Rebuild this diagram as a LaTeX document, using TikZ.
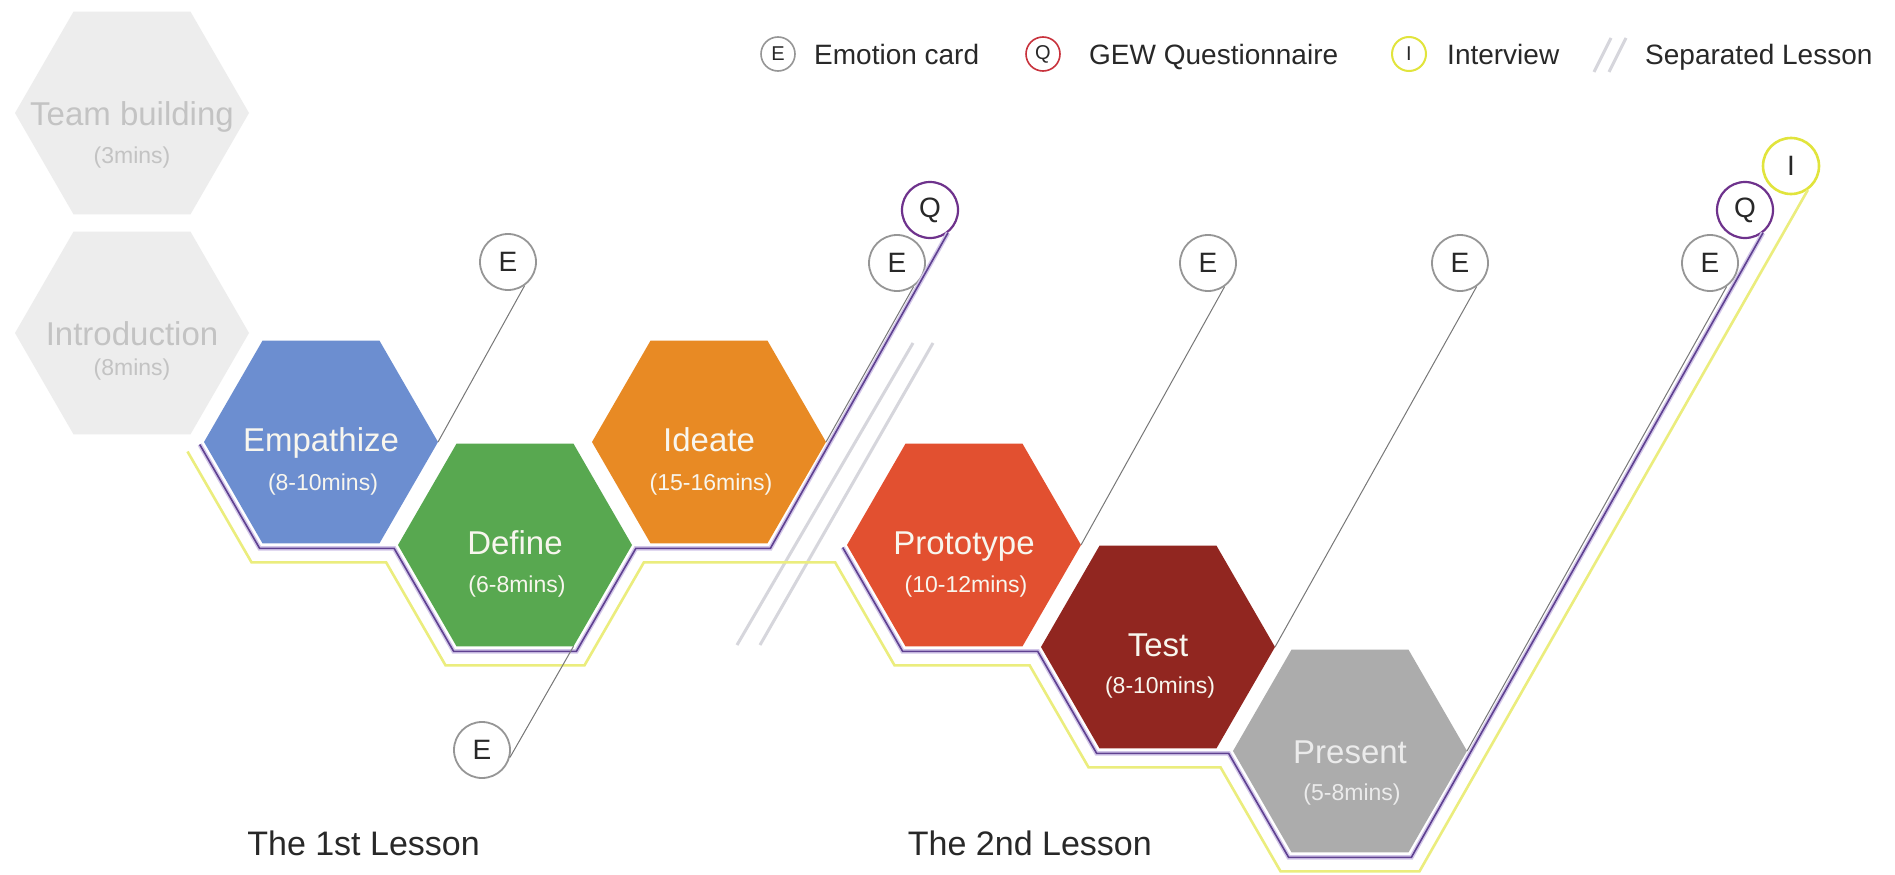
\documentclass[tikz,border=0pt]{standalone}
\usepackage{fontspec}
\setmainfont{Liberation Sans}
\usetikzlibrary{shapes.geometric,calc}
\definecolor{grayhex}{RGB}{237,237,237}
\definecolor{graytxt}{RGB}{195,195,195}
\definecolor{empc}{RGB}{108,142,208}
\definecolor{defc}{RGB}{88,168,80}
\definecolor{idec}{RGB}{232,138,36}
\definecolor{proc}{RGB}{226,80,48}
\definecolor{tesc}{RGB}{145,38,32}
\definecolor{prec}{RGB}{172,172,172}
\definecolor{hextxt}{RGB}{248,246,238}
\definecolor{ecol}{RGB}{150,150,150}
\definecolor{elinec}{RGB}{120,120,120}
\definecolor{qpur}{RGB}{110,50,140}
\definecolor{qred}{RGB}{200,50,60}
\definecolor{iyel}{RGB}{225,228,60}
\definecolor{ylinc}{RGB}{235,237,125}
\definecolor{plinc}{RGB}{95,65,145}
\definecolor{plav}{RGB}{210,198,232}
\definecolor{sepc}{RGB}{214,214,220}
\definecolor{txtdark}{RGB}{40,40,40}
\begin{document}
\begin{tikzpicture}[x=1pt,y=-1pt,
  hexa/.style={regular polygon, regular polygon sides=6, minimum size=234pt, inner sep=0pt, outer sep=0pt, draw=none},
  ttl/.style={font=\fontsize{33}{38}\selectfont, anchor=base, inner sep=0pt},
  sub/.style={font=\fontsize{23}{27}\selectfont, anchor=base, inner sep=0pt},
  ecirc/.style={circle, draw=ecol, fill=white, line width=1.8pt, minimum size=56pt, inner sep=0pt, font=\fontsize{28}{30}\selectfont, text=txtdark},
  qcirc/.style={ecirc, draw=qpur, line width=2.2pt},
  icirc/.style={ecirc, draw=iyel, line width=2.6pt},
  lcirc/.style={circle, fill=white, line width=1.6pt, minimum size=34pt, inner sep=0pt, font=\fontsize{20}{22}\selectfont, text=txtdark},
  legtxt/.style={font=\fontsize{28}{32}\selectfont, text=txtdark, anchor=base west, inner sep=0pt},
  lessontxt/.style={font=\fontsize{34}{38}\selectfont, text=txtdark, anchor=base east, inner sep=0pt},
  eln/.style={draw=elinec, line width=1pt},
  pln/.style={draw=plinc, line width=1.6pt, preaction={draw=plav, line width=4.5pt}},
  yln/.style={draw=ylinc, line width=2.6pt},
  sepln/.style={draw=sepc, line width=3pt}
]
\useasboundingbox (0,0) rectangle (1895,875);
\fill[white] (0,0) rectangle (1895,875);

% hexagons
\node[hexa, fill=grayhex] (team) at (132,113) {};
\node[hexa, fill=grayhex] (intro) at (132,333) {};
\node[hexa, fill=empc] (emp) at (321,442) {};
\node[hexa, fill=defc] (def) at (515,545) {};
\node[hexa, fill=idec] (ide) at (709,442) {};
\node[hexa, fill=proc] (pro) at (964,545) {};
\node[hexa, fill=tesc] (tes) at (1158,647) {};
\node[hexa, fill=prec] (pre) at (1350,751) {};

% hexagon texts
\node[ttl, text=graytxt] (teamt) at ($(team.center)+(0,12)$) {Team building};
\node[sub, text=graytxt] (teams) at ($(team.center)+(0,50)$) {(3mins)};
\node[ttl, text=graytxt] (introt) at ($(intro.center)+(0,12)$) {Introduction};
\node[sub, text=graytxt] (intros) at ($(intro.center)+(0,42)$) {(8mins)};
\node[ttl, text=hextxt] (empt) at ($(emp.center)+(0,9)$) {Empathize};
\node[sub, text=hextxt] (emps) at ($(emp.center)+(2,48)$) {(8-10mins)};
\node[ttl, text=hextxt] (deft) at ($(def.center)+(0,9)$) {Define};
\node[sub, text=hextxt] (defs) at ($(def.center)+(2,47)$) {(6-8mins)};
\node[ttl, text=hextxt] (idet) at ($(ide.center)+(0,9)$) {Ideate};
\node[sub, text=hextxt] (ides) at ($(ide.center)+(2,48)$) {(15-16mins)};
\node[ttl, text=hextxt] (prot) at ($(pro.center)+(0,9)$) {Prototype};
\node[sub, text=hextxt] (pros) at ($(pro.center)+(2,47)$) {(10-12mins)};
\node[ttl, text=hextxt] (test) at ($(tes.center)+(0,9)$) {Test};
\node[sub, text=hextxt] (tess) at ($(tes.center)+(2,46)$) {(8-10mins)};
\node[ttl, text=white!92!black] (pret) at ($(pre.center)+(0,12)$) {Present};
\node[sub, text=white!92!black] (pres) at ($(pre.center)+(2,49)$) {(5-8mins)};

% separator between lessons
\coordinate (s1a) at (913,343); \coordinate (s1b) at (737,645);
\coordinate (s2a) at (933,343); \coordinate (s2b) at (760,645);
\draw[sepln] (s1a) -- (s1b);
\draw[sepln] (s2a) -- (s2b);

% circles
\node[ecirc] (e1) at (508,262) {E};
\node[ecirc] (e2) at (482,750) {E};
\node[ecirc] (e3) at (897,263) {E};
\node[qcirc] (q1) at (930,210) {Q};
\node[ecirc] (e4) at (1208,263) {E};
\node[ecirc] (e5) at (1460,263) {E};
\node[ecirc] (e6) at (1710,263) {E};
\node[qcirc] (q2) at (1745,210) {Q};
\node[icirc] (i1) at (1791,166) {I};

% yellow interview line
\coordinate (y0) at (187.5,451.5);
\coordinate (y1) at (251.5,562.3);
\coordinate (y2) at (386.1,562.3);
\coordinate (y3) at (445.5,665.3);
\coordinate (y4) at (584.5,665.3);
\coordinate (y5) at (643.9,562.3);
\coordinate (y6) at (835.1,562.3);
\coordinate (y7) at (894.5,665.3);
\coordinate (y8) at (1029.6,665.3);
\coordinate (y9) at (1088.5,767.3);
\coordinate (y10) at (1220.5,767.3);
\coordinate (y11) at (1280.5,871.3);
\coordinate (y12) at (1419.5,871.3);
\draw[yln] (y0) -- (y1) -- (y2) -- (y3) -- (y4) -- (y5) -- (y6) -- (y7) -- (y8) -- (y9) -- (y10) -- (y11) -- (y12) -- (i1.-55);

% purple questionnaire lines
\coordinate (p0) at (199.7,444.5);
\coordinate (p1) at (259.6,548.3);
\coordinate (p2) at (394.1,548.3);
\coordinate (p3) at (453.6,651.3);
\coordinate (p4) at (576.4,651.3);
\coordinate (p5) at (635.9,548.3);
\coordinate (p6) at (770.4,548.3);
\draw[pln] (p0) -- (p1) -- (p2) -- (p3) -- (p4) -- (p5) -- (p6) -- (q1.-52);
\coordinate (p7) at (842.7,547.5);
\coordinate (p8) at (902.6,651.3);
\coordinate (p9) at (1037.7,651.3);
\coordinate (p10) at (1096.6,753.3);
\coordinate (p11) at (1228.6,753.3);
\coordinate (p12) at (1288.6,857.3);
\coordinate (p13) at (1411.4,857.3);
\draw[pln] (p7) -- (p8) -- (p9) -- (p10) -- (p11) -- (p12) -- (p13) -- (q2.-52);

% emotion card lines
\draw[eln] (emp.east) -- (e1.-55);
\draw[eln] (def.corner 5) -- (e2.-15);
\draw[eln] (ide.east) -- (e3.-55);
\draw[eln] (pro.east) -- (e4.-55);
\draw[eln] (tes.east) -- (e5.-55);
\draw[eln] (pre.east) -- (e6.-55);

% lesson labels
\node[lessontxt] (l1) at (480,855) {The 1st Lesson};
\node[lessontxt] (l2) at (1152,855) {The 2nd Lesson};

% legend
\node[lcirc, draw=ecol] (le) at (778,54) {E};
\node[legtxt] (let) at (814,64) {Emotion card};
\node[lcirc, draw=qred] (lq) at (1043,54) {Q};
\node[legtxt] (lqt) at (1089,64) {GEW Questionnaire};
\node[lcirc, draw=iyel, line width=2pt] (li) at (1409,54) {I};
\node[legtxt] (lit) at (1447,64) {Interview};
\coordinate (ls1a) at (1611,38); \coordinate (ls1b) at (1594,72);
\coordinate (ls2a) at (1626,38); \coordinate (ls2b) at (1609,72);
\draw[sepln] (ls1a) -- (ls1b);
\draw[sepln] (ls2a) -- (ls2b);
\node[legtxt] (lst) at (1645,64) {Separated Lesson};
\end{tikzpicture}
\end{document}
